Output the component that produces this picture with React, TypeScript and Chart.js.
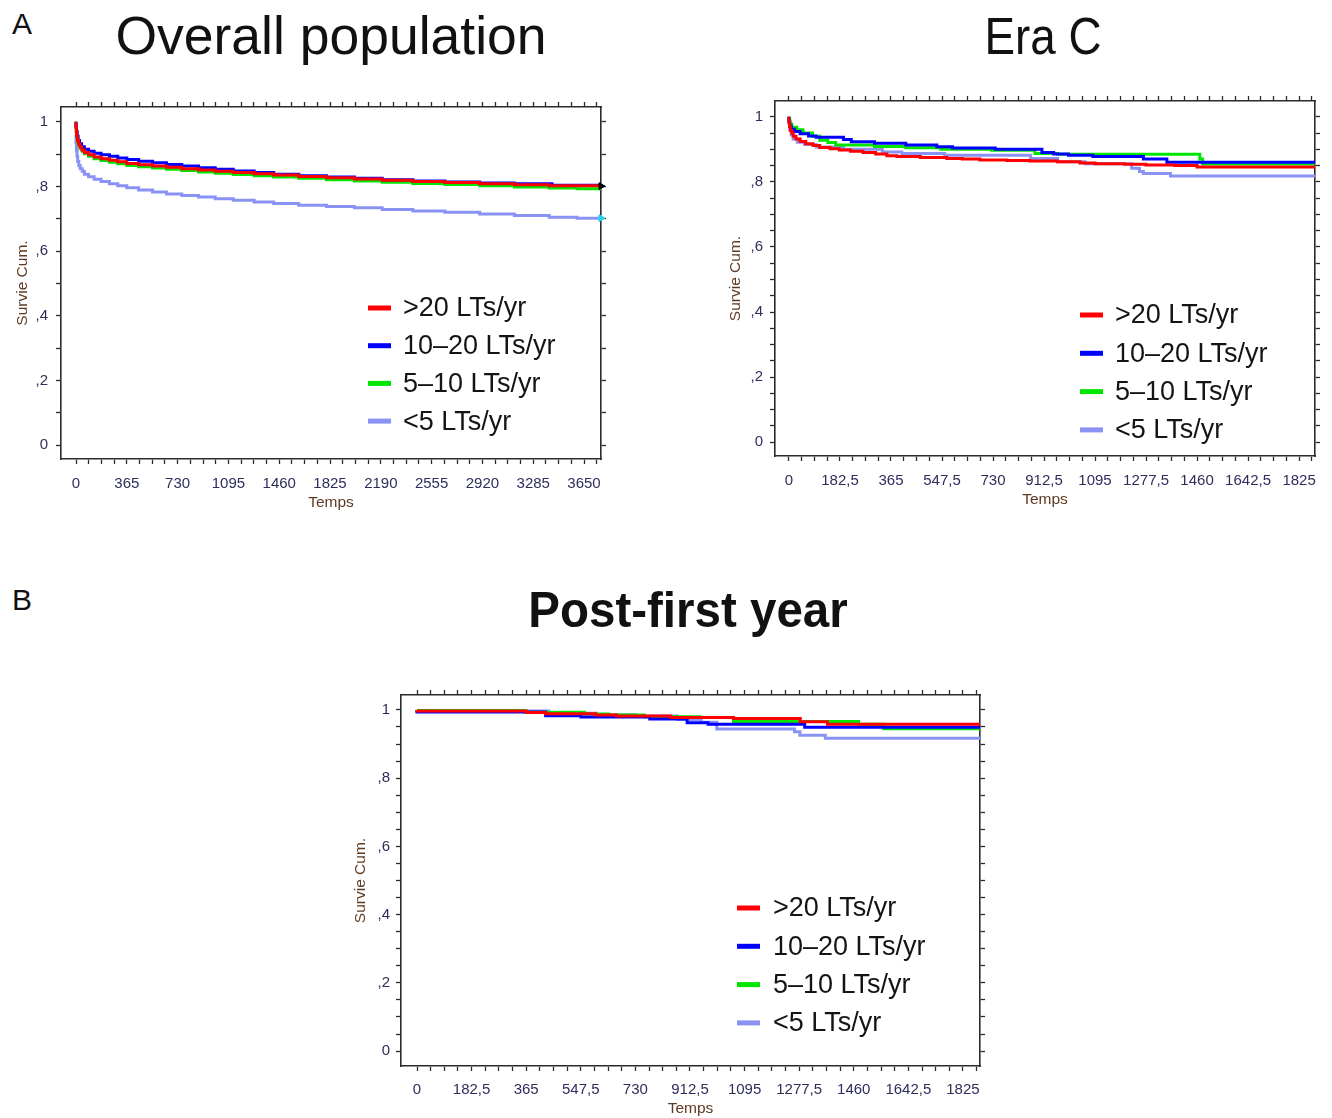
import React, { useEffect, useRef } from "react";
import { Chart, registerables } from "chart.js";

Chart.register(...registerables);

type Pt = [number, number];

const FONT = '"Liberation Sans", Arial, Helvetica, sans-serif';
const AXIS = "#2b2b2b";
const TICK_COLOR = "#2e2e5c";
const TITLE_COLOR = "#5e3a22";

const SERIES_LABELS = [">20 LTs/yr", "10–20 LTs/yr", "5–10 LTs/yr", "<5 LTs/yr"];
const SERIES_COLORS = ["#ff0000", "#0000ff", "#00e600", "#8a92f4"];

// ---------- A: Overall population (time in days, cumulative survival)
const overallGt20: Pt[] = [[0,1],[2,0.985],[5,0.97],[10,0.955],[18,0.942],[28,0.932],[42,0.922],[60,0.913],[90,0.905],[130,0.898],[180,0.891],[240,0.886],[300,0.881],[365,0.876],[450,0.871],[550,0.867],[650,0.863],[760,0.859],[880,0.855],[1000,0.851],[1130,0.847],[1280,0.843],[1420,0.839],[1600,0.835],[1800,0.831],[2000,0.827],[2200,0.823],[2420,0.819],[2650,0.815],[2900,0.812],[3150,0.808],[3400,0.805],[3600,0.802],[3772,0.802]];
const overallTen20: Pt[] = [[0,1],[3,0.985],[8,0.97],[15,0.955],[25,0.942],[40,0.932],[60,0.923],[90,0.915],[130,0.909],[180,0.903],[240,0.898],[300,0.893],[365,0.888],[450,0.883],[550,0.878],[650,0.873],[760,0.868],[880,0.863],[1000,0.858],[1130,0.853],[1280,0.848],[1420,0.843],[1600,0.838],[1800,0.833],[2000,0.829],[2200,0.825],[2420,0.821],[2650,0.817],[2900,0.814],[3150,0.811],[3420,0.808],[3550,0.804],[3772,0.804]];
const overallFive10: Pt[] = [[0,1],[3,0.98],[7,0.965],[12,0.95],[20,0.937],[30,0.927],[45,0.917],[60,0.909],[90,0.901],[130,0.893],[180,0.886],[240,0.88],[300,0.875],[365,0.87],[450,0.865],[550,0.861],[650,0.857],[760,0.853],[880,0.849],[1000,0.845],[1130,0.841],[1280,0.837],[1420,0.833],[1600,0.829],[1800,0.825],[2000,0.821],[2200,0.817],[2420,0.813],[2650,0.809],[2900,0.806],[3150,0.802],[3400,0.798],[3600,0.795],[3772,0.793]];
const overallLt5: Pt[] = [[0,0.96],[3,0.935],[7,0.912],[12,0.893],[20,0.877],[30,0.865],[45,0.855],[60,0.847],[90,0.838],[130,0.83],[180,0.822],[240,0.815],[300,0.808],[365,0.802],[450,0.796],[550,0.789],[650,0.783],[760,0.777],[880,0.772],[1000,0.767],[1130,0.762],[1280,0.757],[1420,0.752],[1600,0.747],[1800,0.742],[2000,0.738],[2200,0.734],[2420,0.729],[2650,0.724],[2900,0.72],[3150,0.715],[3400,0.71],[3600,0.705],[3772,0.702]];
const overallCensorMain: Pt[] = [[3772, 0.801]];
const overallCensorLt5: Pt[] = [[3772, 0.702]];

// ---------- A: Era C
const eraGt20: Pt[] = [[0,1],[2,0.985],[5,0.97],[10,0.958],[15,0.95],[25,0.94],[40,0.932],[60,0.924],[86,0.917],[110,0.912],[147,0.906],[180,0.902],[220,0.898],[265,0.894],[310,0.89],[350,0.886],[386,0.88],[470,0.878],[565,0.875],[620,0.872],[683,0.87],[780,0.867],[862,0.866],[960,0.864],[1041,0.862],[1095,0.858],[1200,0.856],[1277,0.854],[1380,0.852],[1460,0.85],[1560,0.846],[1882,0.846]];
const eraTen20: Pt[] = [[0,1],[3,0.985],[8,0.972],[20,0.962],[40,0.955],[70,0.948],[97,0.941],[195,0.937],[223,0.93],[306,0.923],[418,0.919],[529,0.913],[585,0.908],[738,0.904],[905,0.9],[947,0.89],[1000,0.886],[1087,0.882],[1268,0.878],[1352,0.87],[1870,0.86],[1882,0.86]];
const eraFive10: Pt[] = [[0,1],[3,0.99],[10,0.978],[28,0.968],[50,0.96],[84,0.95],[110,0.94],[139,0.928],[167,0.921],[306,0.913],[418,0.909],[543,0.905],[724,0.9],[880,0.897],[961,0.887],[1470,0.885],[1480,0.87],[1876,0.855],[1882,0.855]];
const eraLt5: Pt[] = [[0,1],[3,0.98],[8,0.96],[15,0.945],[30,0.932],[56,0.922],[97,0.915],[195,0.907],[334,0.9],[404,0.892],[557,0.887],[864,0.882],[961,0.872],[1059,0.862],[1226,0.856],[1254,0.842],[1268,0.832],[1365,0.826],[1414,0.818],[1882,0.818]];

// ---------- B: Post-first year
const postGt20: Pt[] = [[0,1],[367,0.997],[430,0.992],[597,0.989],[667,0.985],[848,0.982],[1058,0.978],[1281,0.975],[1372,0.965],[1574,0.958],[1882,0.958]];
const postTen20: Pt[] = [[0,1],[430,0.994],[548,0.983],[778,0.979],[903,0.973],[973,0.962],[1296,0.958],[1317,0.949],[1882,0.949]];
const postFive10: Pt[] = [[0,1],[360,0.998],[560,0.993],[640,0.988],[760,0.985],[946,0.98],[1058,0.978],[1476,0.966],[1560,0.958],[1870,0.945],[1882,0.945]];
const postLt5: Pt[] = [[0,1],[440,0.997],[600,0.99],[730,0.986],[870,0.982],[950,0.972],[1002,0.964],[1262,0.944],[1280,0.936],[1365,0.926],[1406,0.917],[1882,0.917]];

// ---------- tick labels
const overallXLabels = [0, 365, 730, 1095, 1460, 1825, 2190, 2555, 2920, 3285, 3650];
const eraXLabels = [0, 182.5, 365, 547.5, 730, 912.5, 1095, 1277.5, 1460, 1642.5, 1825];
const yLabels = [0, 0.2, 0.4, 0.6, 0.8, 1];

type PanelCfg = {
  left: number; top: number; w: number; h: number;
  box: { l: number; r: number; t: number; b: number };
  xMin: number; xMax: number; yMin: number; yMax: number;
  xLabels: number[]; yStep: number;
  tempsY: number; survieX: number; yTickPad: number; xTickPad: number;
  legend: { x: number; textX: number; y: number; gap: number };
  series: Pt[][];
  censors: { pts: Pt[]; color: string }[];
};

const panels: PanelCfg[] = [
  {
    left: 0, top: 90, w: 620, h: 440,
    box: { l: 61, r: 601, t: 11, b: 369 },
    xMin: -108, xMax: 3772, yMin: -0.0426, yMax: 1.0456,
    xLabels: overallXLabels, yStep: 0.1,
    tempsY: 413, survieX: 22, yTickPad: 8, xTickPad: 11,
    legend: { x: 368, textX: 403, y: 218, gap: 37.7 },
    series: [overallGt20, overallTen20, overallFive10, overallLt5],
    censors: [{ pts: overallCensorMain, color: "#000000" }, { pts: overallCensorLt5, color: "#22d3f0" }],
  },
  {
    left: 700, top: 85, w: 632, h: 440,
    box: { l: 75, r: 615, t: 12, b: 371 },
    xMin: -50, xMax: 1882, yMin: -0.0426, yMax: 1.0486,
    xLabels: eraXLabels, yStep: 0.05,
    tempsY: 415, survieX: 35, yTickPad: 7, xTickPad: 11,
    legend: { x: 380, textX: 415, y: 230, gap: 38.3 },
    series: [eraGt20, eraTen20, eraFive10, eraLt5],
    censors: [],
  },
  {
    left: 340, top: 680, w: 660, h: 438,
    box: { l: 61, r: 640, t: 12, b: 386 },
    xMin: -53.5, xMax: 1882, yMin: -0.0436, yMax: 1.0436,
    xLabels: eraXLabels, yStep: 0.05,
    tempsY: 429, survieX: 20, yTickPad: 6, xTickPad: 10,
    legend: { x: 397, textX: 433, y: 228, gap: 38.3 },
    series: [postGt20, postTen20, postFive10, postLt5],
    censors: [],
  },
];

const insideLegend = {
  id: "insideLegend",
  afterDatasetsDraw(chart: any, _args: any, opts: any) {
    const { ctx } = chart;
    ctx.save();
    ctx.font = `${opts.fontSize}px ${FONT}`;
    ctx.textBaseline = "middle";
    ctx.textAlign = "left";
    let row = 0;
    chart.data.datasets.forEach((ds: any) => {
      if (ds.isCensor) return;
      const y = opts.y + row * opts.gap;
      ctx.strokeStyle = ds.borderColor;
      ctx.lineWidth = 5;
      ctx.beginPath();
      ctx.moveTo(opts.x, y);
      ctx.lineTo(opts.x + opts.len, y);
      ctx.stroke();
      ctx.fillStyle = "#141414";
      ctx.fillText(ds.label, opts.textX, y + 1);
      row++;
    });
    ctx.restore();
  },
};

function buildConfig(p: PanelCfg): any {
  const xStep = (p.xLabels[1] - p.xLabels[0]) / 4;
  const xVals: number[] = [];
  for (let i = 0; i * xStep <= p.xMax + 1e-6; i++) xVals.push(Math.round(i * xStep * 1000) / 1000);
  const yVals: number[] = [];
  for (let i = 0; i * p.yStep <= 1 + 1e-6; i++) yVals.push(Math.round(i * p.yStep * 1000) / 1000);
  const isX = (v: number) => p.xLabels.some((m) => Math.abs(m - v) < 1e-6);
  const isY = (v: number) => yLabels.some((m) => Math.abs(m - v) < 1e-6);
  const fmtX = (v: number) => String(Math.round(v * 10) / 10).replace(".", ",");
  const fmtY = (v: number) =>
    Math.abs(v) < 1e-9 ? "0" : Math.abs(v - 1) < 1e-9 ? "1" : "," + Math.round(v * 10);
  const grid = { display: true, drawOnChartArea: false, drawTicks: true, tickLength: 5, tickColor: AXIS, tickWidth: 1.3 };
  const border = { display: true, color: AXIS, width: 1.6 };
  const tickFont = { family: FONT, size: 15 };
  const xTicksSet = (s: any) => { s.ticks = xVals.map((v) => ({ value: v })); };
  const yTicksSet = (s: any) => { s.ticks = yVals.map((v) => ({ value: v })); };
  const lh = 15 * 1.2;

  const datasets: any[] = p.series.map((pts, i) => ({
    label: SERIES_LABELS[i],
    data: pts.map(([x, y]) => ({ x, y })),
    borderColor: SERIES_COLORS[i],
    backgroundColor: SERIES_COLORS[i],
    borderWidth: 3,
    stepped: "after",
    pointRadius: 0,
    fill: false,
    order: 0,
  }));
  p.censors.forEach((c) => {
    datasets.push({
      label: "censor",
      isCensor: true,
      data: c.pts.map(([x, y]) => ({ x, y })),
      showLine: false,
      pointStyle: "triangle",
      rotation: 90,
      pointRadius: 4,
      pointBackgroundColor: c.color,
      pointBorderColor: c.color,
      borderColor: c.color,
      clip: false,
      order: -1,
    });
  });

  return {
    type: "line",
    data: { datasets },
    plugins: [insideLegend],
    options: {
      responsive: false,
      animation: false,
      devicePixelRatio: 1,
      events: [],
      layout: { padding: 0 },
      plugins: {
        legend: { display: false },
        tooltip: { enabled: false },
        title: { display: false },
        insideLegend: { x: p.legend.x, textX: p.legend.textX, y: p.legend.y, gap: p.legend.gap, len: 23, fontSize: 27 },
      },
      scales: {
        x: {
          type: "linear", position: "bottom", min: p.xMin, max: p.xMax,
          afterBuildTicks: xTicksSet,
          afterFit: (s: any) => { s.height = p.h - p.box.b; },
          grid, border,
          ticks: {
            autoSkip: false, maxRotation: 0, minRotation: 0, padding: p.xTickPad,
            font: tickFont, color: TICK_COLOR,
            callback: (v: any) => (isX(Number(v)) ? fmtX(Number(v)) : ""),
          },
          title: {
            display: true, text: "Temps", color: TITLE_COLOR,
            font: { family: FONT, size: 15.5 },
            padding: { top: 0, bottom: Math.max(0, p.h - p.tempsY - lh / 2) },
          },
        },
        xTop: {
          type: "linear", position: "top", min: p.xMin, max: p.xMax,
          afterBuildTicks: xTicksSet,
          afterFit: (s: any) => { s.height = p.box.t; },
          grid, border,
          ticks: { display: false, autoSkip: false, maxRotation: 0 },
        },
        y: {
          type: "linear", position: "left", min: p.yMin, max: p.yMax,
          afterBuildTicks: yTicksSet,
          afterFit: (s: any) => { s.width = p.box.l; },
          grid, border,
          ticks: {
            autoSkip: false, padding: p.yTickPad, font: tickFont, color: TICK_COLOR,
            callback: (v: any) => (isY(Number(v)) ? fmtY(Number(v)) : ""),
          },
          title: {
            display: true, text: "Survie Cum.", color: TITLE_COLOR,
            font: { family: FONT, size: 15.5 },
            padding: { top: p.survieX - lh / 2, bottom: 0 },
          },
        },
        yRight: {
          type: "linear", position: "right", min: p.yMin, max: p.yMax,
          afterBuildTicks: yTicksSet,
          afterFit: (s: any) => { s.width = p.w - p.box.r; },
          grid, border,
          ticks: { display: false, autoSkip: false },
        },
      },
    },
  };
}

function Panel({ p }: { p: PanelCfg }) {
  const ref = useRef<HTMLCanvasElement | null>(null);
  useEffect(() => {
    if (!ref.current) return;
    const chart = new Chart(ref.current, buildConfig(p));
    return () => chart.destroy();
  }, [p]);
  return (
    <div style={{ position: "absolute", left: p.left, top: p.top, width: p.w, height: p.h }}>
      <canvas ref={ref} width={p.w} height={p.h} style={{ display: "block", width: p.w, height: p.h }} />
    </div>
  );
}

function Label(props: { x: number; y: number; size: number; text: string; bold?: boolean; sx?: number }) {
  const { x, y, size, text, bold, sx = 1 } = props;
  return (
    <div
      style={{
        position: "absolute", left: x, top: y,
        transform: `translate(-50%, -50%) scaleX(${sx})`,
        fontFamily: FONT, fontSize: size, lineHeight: 1,
        fontWeight: bold ? 700 : 400, color: "#111", whiteSpace: "nowrap",
      }}
    >
      {text}
    </div>
  );
}

export default function App() {
  return (
    <div style={{ position: "absolute", left: 0, top: 0, width: 1332, height: 1118, background: "#fff", overflow: "hidden" }}>
      <Label x={22} y={24} size={30} text="A" />
      <Label x={331} y={36} size={53.5} text="Overall population" />
      <Label x={1043} y={36} size={52} text="Era C" sx={0.88} />
      <Label x={22} y={600} size={30} text="B" />
      <Label x={688} y={610} size={50} text="Post-first year" bold sx={0.95} />
      {panels.map((p, i) => (
        <Panel key={i} p={p} />
      ))}
    </div>
  );
}
